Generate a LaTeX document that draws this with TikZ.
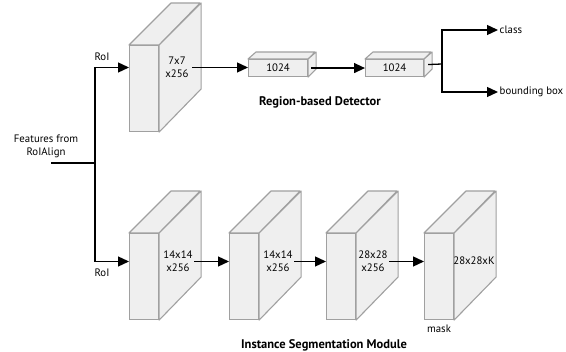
\documentclass[tikz,border=0pt]{standalone}
\usepackage{fontspec}
\setmainfont{PT Sans}
\usetikzlibrary{arrows.meta,calc}
\definecolor{facefill}{HTML}{EFEFEF}
\definecolor{faceline}{HTML}{A0A0A0}
\tikzset{
  face/.style={draw=faceline, fill=facefill, line width=1.1pt, inner sep=0pt},
  lbl/.style={font=\fontsize{10.8}{13}\selectfont, inner sep=1.5pt, align=center},
  ttl/.style={font=\fontsize{12.5}{14}\selectfont\bfseries, inner sep=0pt},
  arr/.style={line width=1.3pt, -{Triangle[length=11pt,width=10pt]}},
  ln/.style={line width=1.3pt}
}
\newcommand{\cuboid}[8]{% name, x, y, w, h, dx, dy, text
  \node[face, minimum width=#4pt, minimum height=#5pt, anchor=north west, lbl, inner sep=0pt] (#1) at (#2,#3) {#8};
  \draw[face, line join=round] (#1.north west) -- ++(#6,-#7) -- ++(#4,0) -- (#1.north east) -- cycle;
  \draw[face, line join=round] (#1.north east) -- ++(#6,-#7) -- ++(0,#5) -- (#1.south east) -- cycle;
}
\begin{document}
\begin{tikzpicture}[x=1pt,y=-1pt]
\path[use as bounding box] (0,0) rectangle (566,352);
% detector branch
\cuboid{f1}{129}{45}{29}{86}{42}{42}{}
\node[lbl] (t1) at (177,67.5) {7x7\\x256};
\cuboid{s1}{248}{59}{59}{17}{8}{7}{1024}
\cuboid{s2}{365}{59}{58}{17}{8}{7}{1024}
% mask branch
\cuboid{mA}{129}{233}{29}{86}{42}{42}{}
\cuboid{mB}{229}{233}{29}{86}{42}{42}{}
\cuboid{mC}{326}{233}{29}{86}{42}{42}{}
\cuboid{mD}{424}{233}{29}{86}{42}{42}{}
\node[lbl] (tA) at (178,261.5) {14x14\\x256};
\node[lbl] (tB) at (278,261.5) {14x14\\x256};
\node[lbl] (tC) at (373,261.5) {28x28\\x256};
\node[lbl] (tD) at (474,261) {28x28xK};
% labels
\node[lbl] (feat) at (46,146.5) {Features from\\RoIAlign};
\node[lbl] (roi1) at (102,57) {RoI};
\node[lbl] (roi2) at (102,273) {RoI};
\node[lbl] (mask) at (439,329) {mask};
\node[lbl, anchor=west] (cls) at (498,30) {class};
\node[lbl, anchor=west] (bb) at (498,92) {bounding box};
\node[ttl] (det) at (320,102) {Region-based Detector};
\node[ttl] (seg) at (324,345) {Instance Segmentation Module};
% connectors
\coordinate (fs) at (51,163);
\coordinate (junc) at (95,163);
\coordinate (br) at (442,64);
\draw[ln] (fs) -- (junc);
\draw[arr] (junc) |- (t1 -| f1.west);
\draw[arr] (junc) |- (tA -| mA.west);
\draw[arr] ([xshift=2pt]t1.east) -- (t1 -| s1.west);
\draw[arr] ([xshift=3pt]s1.east) -- (s2.west);
\draw[ln] ($(s2.east)+(4,-3.5)$) -- (br);
\draw[arr] (br) |- (cls.west);
\draw[arr] (br) |- (bb.west);
\draw[arr] (tA.east) -- (tA -| mB.west);
\draw[arr] (tB.east) -- (tB -| mC.west);
\draw[arr] (tC.east) -- (tC -| mD.west);
\end{tikzpicture}
\end{document}
